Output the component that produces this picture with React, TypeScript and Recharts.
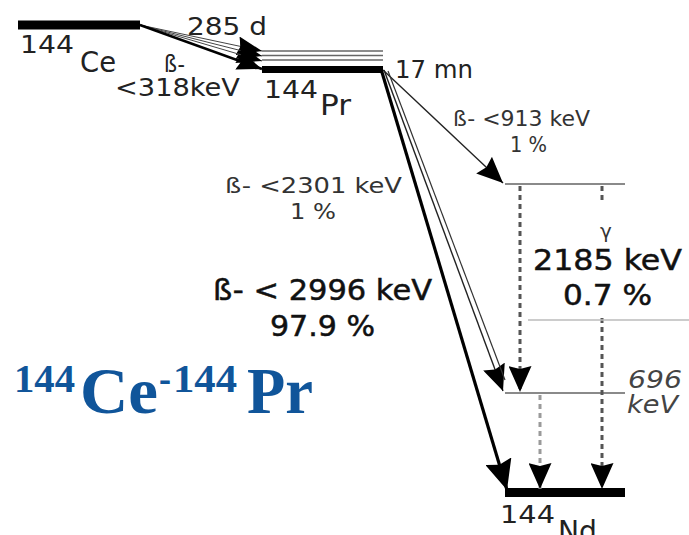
import React from 'react';
import { ScatterChart, Scatter, XAxis, YAxis, ReferenceLine } from 'recharts';

// Diagram coordinates (x: 0..689, y: 0..535 top-down)
const levels = [
  { id: 'Ce', x1: 18, x2: 140, y: 25, kind: 'ground' },
  { id: 'Pr', x1: 262, x2: 383, y: 69.5, kind: 'pr' },
  { id: 'Pr1', x1: 262, x2: 383, y: 51, kind: 'thin' },
  { id: 'Pr2', x1: 262, x2: 383, y: 55.5, kind: 'thin' },
  { id: 'Pr3', x1: 262, x2: 383, y: 60, kind: 'thin' },
  { id: 'Nd2185', x1: 505, x2: 625, y: 184, kind: 'excited' },
  { id: 'Nd696', x1: 505, x2: 625, y: 393, kind: 'excited' },
  { id: 'Nd', x1: 505, x2: 625, y: 492.5, kind: 'nd' },
];

const transitions = [
  { id: 'ce1', x1: 140, y1: 25, x2: 262, y2: 51, kind: 'fan' },
  { id: 'ce2', x1: 140, y1: 25, x2: 262, y2: 56, kind: 'fan' },
  { id: 'ce3', x1: 140, y1: 25, x2: 262, y2: 61, kind: 'fan' },
  { id: 'ce0', x1: 140, y1: 25, x2: 262, y2: 69, kind: 'fanMain' },
  { id: 'b913', x1: 383, y1: 70, x2: 503, y2: 183, kind: 'beta' },
  { id: 'b2301a', x1: 384, y1: 70, x2: 503, y2: 391, kind: 'beta' },
  { id: 'b2301b', x1: 388, y1: 71, x2: 505, y2: 380, kind: 'betaPlain' },
  { id: 'b2996', x1: 381, y1: 69, x2: 507, y2: 490, kind: 'betaMain' },
  { id: 'g1', x1: 520, y1: 186, x2: 520, y2: 392, kind: 'gamma' },
  { id: 'g2a', x1: 602, y1: 186, x2: 602, y2: 200, kind: 'gammaPlain' },
  { id: 'g2b', x1: 602, y1: 318, x2: 602, y2: 489, kind: 'gamma' },
  { id: 'g3', x1: 540, y1: 395, x2: 540, y2: 489, kind: 'gammaLight' },
  { id: 'box', x1: 528, y1: 320, x2: 689, y2: 320, kind: 'box' },
];

const labels = [
  { x: 187, y: 35, text: '285 d', kind: 'big', w: 80 },
  { x: 164, y: 72, text: 'ß-', kind: 'beta', w: 0 },
  { x: 115, y: 96, text: '<318keV', kind: 'big', w: 125 },
  { x: 20, y: 53, text: '144', kind: 'big', w: 54 },
  { x: 80, y: 72, text: 'Ce', kind: 'nuc', w: 36 },
  { x: 264, y: 98, text: '144', kind: 'big', w: 54 },
  { x: 320, y: 115, text: 'Pr', kind: 'nuc', w: 31 },
  { x: 395, y: 78, text: '17 mn', kind: 'big', w: 78 },
  { x: 453, y: 126, text: 'ß- <913 keV', kind: 'small', w: 137 },
  { x: 510, y: 152, text: '1 %', kind: 'small', w: 37 },
  { x: 225, y: 193, text: 'ß- <2301 keV', kind: 'small', w: 177 },
  { x: 290, y: 219, text: '1 %', kind: 'small', w: 46 },
  { x: 213, y: 300, text: 'ß- < 2996 keV', kind: 'bold', w: 219 },
  { x: 270, y: 336, text: '97.9 %', kind: 'bold', w: 105 },
  { x: 600, y: 238, text: 'γ', kind: 'gam', w: 0 },
  { x: 533, y: 270, text: '2185 keV', kind: 'bold', w: 149 },
  { x: 563, y: 305, text: '0.7 %', kind: 'bold', w: 89 },
  { x: 628, y: 388, text: '696', kind: 'ital', w: 54 },
  { x: 627, y: 413, text: 'keV', kind: 'ital', w: 51 },
  { x: 500, y: 523, text: '144', kind: 'big', w: 55 },
  { x: 558, y: 541, text: 'Nd', kind: 'nuc', w: 39 },
  { x: 14, y: 392, text: '144', kind: 'titleSup', w: 61 },
  { x: 80, y: 413, text: 'Ce', kind: 'title', w: 78 },
  { x: 159, y: 392, text: '-', kind: 'titleSup', w: 12 },
  { x: 173, y: 392, text: '144', kind: 'titleSup', w: 64 },
  { x: 247, y: 413, text: 'Pr', kind: 'title', w: 66 },
];

const levelStyle: Record<string, any> = {
  ground: { stroke: '#000', strokeWidth: 9 },
  pr: { stroke: '#000', strokeWidth: 7 },
  thin: { stroke: '#666', strokeWidth: 1.3 },
  excited: { stroke: '#8a8a8a', strokeWidth: 2 },
  nd: { stroke: '#000', strokeWidth: 9 },
};

const transStyle: Record<string, any> = {
  fan: { stroke: '#444', strokeWidth: 1, marker: 'url(#arrSmall)' },
  fanMain: { stroke: '#000', strokeWidth: 2.5, marker: 'url(#arrSmall)' },
  beta: { stroke: '#222', strokeWidth: 1.4, marker: 'url(#arrMed)' },
  betaPlain: { stroke: '#333', strokeWidth: 1.2 },
  betaMain: { stroke: '#000', strokeWidth: 3.2, marker: 'url(#arrBig)' },
  gamma: { stroke: '#555', strokeWidth: 3, dash: '5 4', marker: 'url(#arrMed)' },
  gammaPlain: { stroke: '#555', strokeWidth: 3, dash: '5 4' },
  gammaLight: { stroke: '#9a9a9a', strokeWidth: 3, dash: '5 4', marker: 'url(#arrMed)' },
  box: { stroke: '#bbb', strokeWidth: 1.5 },
};

const textStyle: Record<string, any> = {
  big: { fontSize: 25, fill: '#222', fontFamily: 'DejaVu Sans' },
  beta: { fontSize: 23, fill: '#222', fontFamily: 'DejaVu Sans Condensed, DejaVu Sans' },
  nuc: { fontSize: 29, fill: '#222', fontFamily: 'DejaVu Sans' },
  small: { fontSize: 22, fill: '#333', fontFamily: 'DejaVu Sans' },
  bold: { fontSize: 29, fill: '#111', fontFamily: 'DejaVu Sans', stroke: '#111', strokeWidth: 0.5 },
  gam: { fontSize: 20, fill: '#333', fontFamily: 'DejaVu Sans' },
  ital: { fontSize: 24, fill: '#444', fontFamily: 'DejaVu Sans', fontStyle: 'italic' },
  titleSup: { fontSize: 41, fill: '#10559a', fontFamily: 'Liberation Serif', fontWeight: 'bold' },
  title: { fontSize: 66, fill: '#10559a', fontFamily: 'Liberation Serif', fontWeight: 'bold' },
};

const renderLabel = (props: any) => {
  const { cx, cy, payload } = props;
  const st = textStyle[payload.kind];
  const fit = payload.w > 0 ? { textLength: payload.w, lengthAdjust: 'spacingAndGlyphs' } : {};
  return (
    <text x={cx} y={cy} {...fit} {...st}>
      {payload.text}
    </text>
  );
};

const makeShape = (st: any) => (p: any) => (
  <line
    x1={p.x1}
    y1={p.y1}
    x2={p.x2}
    y2={p.y2}
    stroke={st.stroke}
    strokeWidth={st.strokeWidth}
    strokeDasharray={st.dash}
    markerEnd={st.marker}
    fill="none"
  />
);

const Marker = ({ id, len, w }: { id: string; len: number; w: number }) => (
  <marker
    id={id}
    markerUnits="userSpaceOnUse"
    markerWidth={len}
    markerHeight={w}
    refX={len}
    refY={w / 2}
    orient="auto"
    viewBox={`0 0 ${len} ${w}`}
  >
    <path d={`M0,0 L${len},${w / 2} L0,${w} L${len * 0.12},${w / 2} Z`} fill="#000" />
  </marker>
);

export default function App() {
  return (
    <div style={{ position: 'absolute', left: 0, top: 0, width: 689, height: 535, background: '#fff' }}>
      <svg width={0} height={0} style={{ position: 'absolute' }}>
        <defs>
          <Marker id="arrSmall" len={25} w={19} />
          <Marker id="arrMed" len={26} w={23} />
          <Marker id="arrBig" len={30} w={27} />
        </defs>
      </svg>
      <ScatterChart width={689} height={535} margin={{ top: 0, right: 0, bottom: 0, left: 0 }}>
        <XAxis type="number" dataKey="x" domain={[0, 689]} hide allowDataOverflow />
        <YAxis type="number" dataKey="y" domain={[0, 535]} reversed hide allowDataOverflow />
        {levels.map((l) => (
          <ReferenceLine
            key={l.id}
            segment={[{ x: l.x1, y: l.y }, { x: l.x2, y: l.y }]}
            ifOverflow="visible"
            shape={makeShape(levelStyle[l.kind])}
          />
        ))}
        {transitions.map((t) => (
          <ReferenceLine
            key={t.id}
            segment={[{ x: t.x1, y: t.y1 }, { x: t.x2, y: t.y2 }]}
            ifOverflow="visible"
            shape={makeShape(transStyle[t.kind])}
          />
        ))}
        <Scatter data={labels} shape={renderLabel} isAnimationActive={false} />
      </ScatterChart>
    </div>
  );
}
